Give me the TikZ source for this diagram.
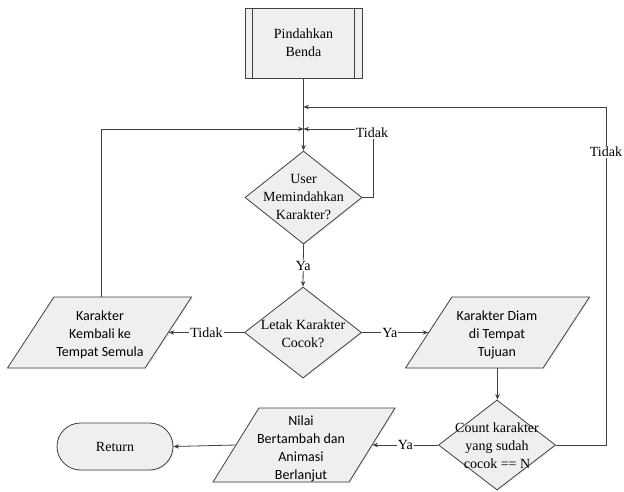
\documentclass[tikz,border=0pt]{standalone}
\usepackage{fontspec}
\setmainfont{Liberation Serif}
\newfontfamily\calfont{Carlito}
\usetikzlibrary{shapes.geometric,shapes.misc,arrows.meta,shadows}

\definecolor{linec}{HTML}{404040}
\definecolor{boxfill}{HTML}{EFEFEF}

\begin{document}
\begin{tikzpicture}[x=1pt,y=-1pt,
  base/.style={draw=linec, line width=0.8pt, fill=boxfill,
    drop shadow={opacity=0.12, shadow xshift=1.2pt, shadow yshift=-1.2pt}},
  proc/.style={base, rectangle, minimum width=117pt, minimum height=70pt, inner sep=0pt},
  dec/.style={base, diamond, minimum width=117pt, minimum height=92pt, inner sep=0pt},
  io/.style={base, trapezium, trapezium left angle=63, trapezium right angle=117,
    trapezium stretches=true, minimum width=184pt, minimum height=71pt, inner sep=2pt},
  term/.style={base, rounded rectangle, minimum width=116pt, minimum height=47pt, inner sep=0pt},
  txt/.style={align=center, inner sep=0pt, text=black, font=\fontsize{14}{18}\selectfont},
  sftxt/.style={txt, font=\calfont\fontsize{14}{18}\selectfont},
  conn/.style={draw=linec, line width=0.8pt},
  arrow/.style={conn, -{Stealth[length=5.5pt,width=4.5pt]}},
  lbl/.style={fill=white, inner sep=1pt, text=black, font=\fontsize{14}{16}\selectfont}]

\useasboundingbox (0,0) rectangle (624,491);

% shapes
\node[proc] (start) at (303.5,43) {};
\draw[linec, line width=0.8pt] ([xshift=8pt]start.north west) -- ([xshift=8pt]start.south west)
  ([xshift=-8pt]start.north east) -- ([xshift=-8pt]start.south east);
\node[txt] at (start) {Pindahkan\\Benda};

\node[dec, minimum height=93pt] (d1) at (303.5,197.5) {};
\node[txt] at (d1) {User\\Memindahkan\\Karakter?};

\node[dec, minimum height=91pt] (d2) at (303,332.5) {};
\node[txt] at (303,333.5) {Letak Karakter\\Cocok?};

\node[io] (p1) at (99.5,332.5) {};
\node[sftxt] at (100,335) {Karakter\\Kembali ke\\Tempat Semula};

\node[io] (p2) at (497.5,332.5) {};
\node[sftxt] at (497,335) {Karakter Diam\\di Tempat\\Tujuan};

\node[dec, minimum height=90pt] (d3) at (497,445) {};
\node[txt] at (497,446) {Count karakter\\yang sudah\\cocok == N};

\node[io, minimum height=74pt, minimum width=182pt] (p3) at (304,445) {};
\node[sftxt] at (301,449) {Nilai\\Bertambah dan\\Animasi\\Berlanjut};

\node[term] (ret) at (115,446.5) {};
\node[txt] at (ret) {Return};

% junction points on the main vertical line
\coordinate (jA) at (303.5,107);
\coordinate (jB) at (303.5,129);
\coordinate (rc) at (606,107);
\coordinate (tc) at (373,129);
\coordinate (lx) at (101,0);

% connectors
\draw[arrow] (start.south) -- (d1.north);
\draw[arrow] (d3.east) -| (rc) -- (jA);
\node[lbl] at (606,152) {Tidak};
\draw[arrow] (d1.east) -| (tc) -- (jB);
\node[lbl] at (372,133) {Tidak};
\draw[arrow] (p1.north -| lx) |- (jB);
\draw[arrow] (d1.south) -- node[lbl]{Ya} (d2.north);
\draw[arrow] (d2.west) -- node[lbl]{Tidak} (p1.east);
\draw[arrow] (d2.east) -- node[lbl, pos=0.42]{Ya} (p2.west);
\draw[arrow] (p2.south) -- (p2.south |- d3.north);
\draw[arrow] (d3.west) -- node[lbl]{Ya} (p3.east);
\draw[arrow] (p3.west) -- (ret.east);
\end{tikzpicture}
\end{document}
